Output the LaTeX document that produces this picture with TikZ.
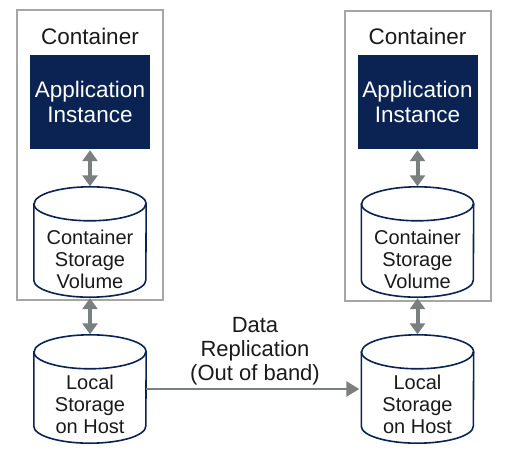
\documentclass[tikz,border=0pt]{standalone}
\usepackage{fontspec}
\setmainfont{Liberation Sans}
\usetikzlibrary{calc,arrows.meta}
\definecolor{navy}{HTML}{0B2352}
\definecolor{boxgray}{HTML}{A6A6A6}
\definecolor{arrgray}{HTML}{7A7F80}
\definecolor{txt}{HTML}{1A1A1A}
\newcommand\drawcyl[1]{%
  \draw[cylline] ($(#1.north west)+(0,-17)$) -- ($(#1.south west)+(0,17)$)
    arc[start angle=180,end angle=360,x radius=56,y radius=17]
    -- ($(#1.north east)+(0,-17)$)
    arc[start angle=0,end angle=180,x radius=56,y radius=17] -- cycle;
  \draw[cylline,fill=none] ($(#1.north west)+(0,-17)$)
    arc[start angle=180,end angle=360,x radius=56,y radius=17];
}
\begin{document}
\begin{tikzpicture}[x=1pt,y=1pt,
  cont/.style={draw=boxgray,line width=2pt,minimum width=146pt,minimum height=290pt,inner sep=0pt},
  appbox/.style={fill=navy,text=white,minimum width=120pt,minimum height=94pt,align=center,
    font=\fontsize{22.5}{25}\selectfont,inner sep=0pt},
  cylbox/.style={minimum width=112pt,minimum height=110pt,inner sep=0pt},
  cylline/.style={draw=navy,line width=1.6pt,fill=white},
  lbl/.style={text=txt,align=center,inner sep=0pt},
  dbl/.style={draw=arrgray,line width=4pt,{Triangle[length=11pt,width=15pt]}-{Triangle[length=11pt,width=15pt]},shorten <=1pt,shorten >=0.5pt},
  sgl/.style={draw=arrgray,line width=2.6pt,-{Triangle[length=13pt,width=15pt]},shorten >=2pt}]
\useasboundingbox (0,0) rectangle (508,-452);
\fill[white] (0,0) rectangle (508,-452);
% left column
\node[cont] (cont1) at (90,-155) {};
\node[lbl,font=\fontsize{22.5}{25}\selectfont] (ct1) at (90,-36) {Container};
\node[appbox] (app1) at (90,-102) {Application\\Instance};
\node[cylbox] (vol1) at (90,-242) {};
\drawcyl{vol1}
\node[lbl,font=\fontsize{20}{22}\selectfont] (vt1) at (90,-259) {Container\\Storage\\Volume};
\node[cylbox,minimum height=108pt] (loc1) at (90,-389) {};
\drawcyl{loc1}
\node[lbl,font=\fontsize{20}{22}\selectfont] (lt1) at (90,-404) {Local\\Storage\\on Host};
% right column
\node[cont] (cont2) at (417.5,-156) {};
\node[lbl,font=\fontsize{22.5}{25}\selectfont] (ct2) at (417.5,-36) {Container};
\node[appbox] (app2) at (417.5,-102) {Application\\Instance};
\node[cylbox] (vol2) at (417.5,-242) {};
\drawcyl{vol2}
\node[lbl,font=\fontsize{20}{22}\selectfont] (vt2) at (417.5,-259) {Container\\Storage\\Volume};
\node[cylbox,minimum height=108pt] (loc2) at (417.5,-389) {};
\drawcyl{loc2}
\node[lbl,font=\fontsize{20}{22}\selectfont] (lt2) at (417.5,-404) {Local\\Storage\\on Host};
% arrows
\draw[dbl] (app1.south) -- (vol1.north);
\draw[dbl] (vol1.south) -- (loc1.north);
\draw[dbl] (app2.south) -- (vol2.north);
\draw[dbl] (vol2.south) -- (loc2.north);
\draw[sgl] (loc1.east) -- (loc2.west);
\node[lbl,font=\fontsize{22}{24}\selectfont] (rep) at (255,-351) {Data\\Replication\\(Out of band)};
\end{tikzpicture}
\end{document}
